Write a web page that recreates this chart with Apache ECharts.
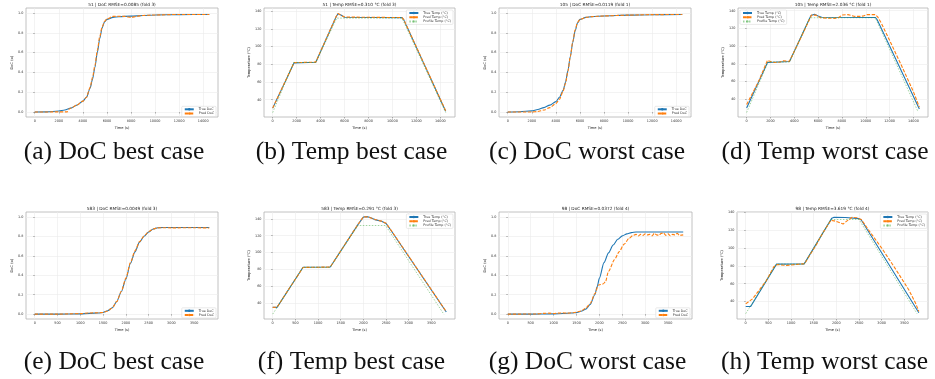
<!DOCTYPE html>
<html lang="en">
<head>
<meta charset="utf-8" />
<title>DoC / Temp best and worst cases</title>
<script src="https://cdn.jsdelivr.net/npm/echarts@6/dist/echarts.min.js"></script>
</head>
<body style="margin:0;background:#fff">
<div id="main" style="width:935px;height:379px;"></div>
<script type="text/javascript">
// ---- values ----
// tick labels
var longTimeTicks = [0, 2000, 4000, 6000, 8000, 10000, 12000, 14000];
var shortTimeTicks = [0, 500, 1000, 1500, 2000, 2500, 3000, 3500];
var docTicks = [0, 0.2, 0.4, 0.6, 0.8, 1.0];
var tempTicks = [40, 60, 80, 100, 120, 140];

// sample 51, DoC
var tDoc51 = [0, 1000, 2000, 2500, 3000, 3500, 4000, 4300, 4600, 4800, 5000, 5200, 5400, 5600, 5800, 6000, 6500, 7000, 8000, 9000, 10000, 12000, 14500];
var trueDoc51 = [0, 0.002, 0.01, 0.02, 0.04, 0.07, 0.11, 0.15, 0.24, 0.33, 0.45, 0.6, 0.74, 0.85, 0.91, 0.935, 0.955, 0.962, 0.968, 0.974, 0.98, 0.983, 0.985];
var tPredDoc51 = [0, 2700, 2850, 3000, 3500, 4000, 4300, 4600, 4800, 5000, 5200, 5400, 5600, 5800, 6000, 6500, 7000, 7500, 8000, 8500, 9000, 10000, 12000, 14500];
var predDoc51 = [0, 0.002, 0.03, 0.04, 0.07, 0.11, 0.15, 0.25, 0.35, 0.47, 0.62, 0.76, 0.86, 0.915, 0.94, 0.965, 0.966, 0.965, 0.955, 0.966, 0.975, 0.98, 0.985, 0.985];

// sample 51, temperature
var tTemp51 = [0, 150, 1780, 1850, 3600, 3700, 5300, 5450, 5550, 5700, 6000, 10800, 10950, 14450];
var trueTemp51 = [30.5, 30.5, 81.5, 82.3, 82.3, 84, 133.5, 137, 137.5, 135.5, 133, 132.5, 130, 27];
var predTemp51 = [30.5, 30.8, 81.8, 82.2, 82.4, 84.2, 133.8, 137.2, 137.3, 135.3, 133.2, 132.6, 130.3, 27.3];
var tProf51 = [0, 1750, 3600, 5350, 10800, 14450];
var profTemp51 = [25.5, 82, 82, 132, 132, 25.5];

// sample 105, DoC
var tDoc105 = [0, 1000, 2000, 2500, 3000, 3500, 4000, 4300, 4600, 4800, 5000, 5200, 5400, 5600, 5800, 6000, 6500, 7000, 8000, 10000, 12000, 14500];
var trueDoc105 = [0, 0.003, 0.012, 0.025, 0.045, 0.07, 0.105, 0.15, 0.22, 0.3, 0.42, 0.56, 0.7, 0.82, 0.9, 0.935, 0.955, 0.963, 0.97, 0.978, 0.982, 0.985];
var tPredDoc105 = [0, 2000, 2500, 3000, 3500, 4000, 4300, 4600, 4800, 5000, 5200, 5400, 5600, 5800, 6000, 6500, 7000, 8000, 10000, 12000, 14500];
var predDoc105 = [0, 0.001, 0.005, 0.02, 0.045, 0.085, 0.13, 0.21, 0.29, 0.41, 0.56, 0.71, 0.83, 0.905, 0.935, 0.955, 0.963, 0.97, 0.978, 0.983, 0.985];

// sample 105, temperature
var tTemp105 = [0, 150, 1750, 1850, 3600, 3700, 5400, 5550, 5700, 6000, 6300, 10800, 10950, 14500];
var trueTemp105 = [30, 30.5, 81.5, 82.3, 82.5, 84, 134.5, 136.5, 136, 134, 132.5, 132.3, 130, 29];
var tPredTemp105 = [0, 150, 1000, 1750, 1850, 2100, 2400, 2800, 3100, 3400, 3600, 4500, 5450, 5600, 5800, 6200, 6800, 7400, 7700, 8000, 8500, 8800, 9100, 9500, 9800, 10100, 10500, 10800, 11000, 11300, 12000, 13000, 14000, 14500];
var predTemp105 = [34, 35, 60, 84, 85, 82, 81.5, 82, 83.5, 82.8, 83, 108, 135, 136.5, 135, 132, 131.5, 131.3, 132, 135, 135.5, 134.5, 133.5, 133.5, 134, 135.5, 135.5, 135.5, 133, 126, 106.5, 78, 48.5, 31];
var tProf105 = [0, 1800, 3600, 5300, 10800, 14400];
var profTemp105 = [25, 82, 82, 132, 132, 25.5];

// sample 583, DoC
var tDoc583 = [0, 500, 1000, 1200, 1400, 1500, 1600, 1700, 1800, 1900, 2000, 2100, 2200, 2300, 2400, 2500, 2600, 2700, 2800, 3000, 3500, 3830];
var trueDoc583 = [0, 0, 0.003, 0.008, 0.012, 0.017, 0.035, 0.065, 0.13, 0.23, 0.36, 0.52, 0.64, 0.74, 0.8, 0.845, 0.875, 0.888, 0.89, 0.89, 0.89, 0.89];
var predDoc583 = [0, 0, 0.005, 0.012, 0.014, 0.017, 0.033, 0.063, 0.13, 0.235, 0.37, 0.53, 0.65, 0.745, 0.805, 0.848, 0.876, 0.887, 0.888, 0.887, 0.888, 0.886];

// sample 583, temperature
var tTemp583 = [0, 95, 670, 700, 1270, 1300, 1880, 2000, 2080, 2150, 2250, 2400, 2500, 2600, 3830];
var trueTemp583 = [35, 35, 82.5, 82.8, 82.8, 84.5, 133, 142, 142.5, 141.5, 139, 137, 134.5, 127, 29.5];
var predTemp583 = [35, 35.2, 82.3, 82.7, 82.8, 84.4, 133.2, 142.2, 142.3, 141.3, 139.2, 137.2, 134.8, 127.3, 29.8];
var tProf583 = [0, 670, 1270, 1880, 2490, 3780];
var profTemp583 = [27, 82.5, 82.5, 132, 132, 26.5];

// sample 98, DoC
var tDoc98 = [0, 500, 1000, 1200, 1400, 1500, 1600, 1700, 1800, 1900, 1950, 2000, 2100, 2200, 2300, 2400, 2500, 2600, 2700, 2800, 3000, 3500, 3830];
var trueDoc98 = [0, 0, 0.003, 0.006, 0.012, 0.016, 0.03, 0.05, 0.1, 0.2, 0.28, 0.37, 0.53, 0.63, 0.71, 0.77, 0.805, 0.825, 0.838, 0.845, 0.845, 0.845, 0.845];
var tPredDoc98 = [0, 600, 800, 900, 1000, 1100, 1200, 1300, 1400, 1500, 1600, 1700, 1800, 1900, 1980, 2030, 2080, 2130, 2200, 2330, 2430, 2540, 2650, 2720, 2800, 2850, 2900, 2950, 3000, 3050, 3100, 3150, 3200, 3250, 3300, 3350, 3400, 3450, 3500, 3550, 3600, 3650, 3700, 3750, 3830];
var predDoc98 = [0, 0.001, 0.008, 0.01, 0.006, 0.01, 0.013, 0.01, 0.014, 0.02, 0.033, 0.06, 0.11, 0.21, 0.3, 0.305, 0.31, 0.33, 0.44, 0.56, 0.64, 0.72, 0.78, 0.805, 0.82, 0.805, 0.82, 0.81, 0.825, 0.815, 0.82, 0.805, 0.83, 0.815, 0.81, 0.83, 0.835, 0.81, 0.825, 0.805, 0.82, 0.815, 0.83, 0.81, 0.815];

// sample 98, temperature
var tTemp98 = [0, 110, 680, 720, 1290, 1330, 1900, 1950, 2200, 2500, 2550, 3820];
var trueTemp98 = [34.5, 34.5, 82, 82.3, 82.3, 84, 133.5, 134.5, 134.3, 133, 131.5, 27.5];
var tPredTemp98 = [0, 150, 450, 620, 700, 900, 1100, 1250, 1300, 1450, 1550, 1700, 1880, 1950, 2050, 2150, 2250, 2350, 2450, 2550, 2700, 3000, 3300, 3600, 3750, 3820];
var predTemp98 = [37.5, 43, 63, 79, 81.5, 80.5, 81.5, 82.3, 82.5, 95, 103, 117, 131, 130.5, 129, 127, 131, 134.5, 134, 132, 121, 100, 77, 53, 38, 29];
var tProf98 = [0, 680, 1290, 1880, 2500, 3780];
var profTemp98 = [26.5, 82, 82, 132, 132, 26.5];

// ---- layout ----
var BLUE = '#1f77b4', ORANGE = '#ff7f0e', GREEN = 'rgba(44,160,44,0.45)';
var FONT = 'DejaVu Sans';

function pts(t, v) {
    return t.map(function (x, i) { return [x, v[i]]; });
}

var panels = [
    { box: [26, 8, 192, 109], long: true, kind: 'doc', y: [-0.05, 1.05],
      title: '51 | DoC RMSE=0.0085 (fold 3)', caption: '(a) DoC best case',
      legend: { right: 719, bottom: 262.5 },
      lines: [['True DoC', tDoc51, trueDoc51], ['Pred DoC', tPredDoc51, predDoc51]] },
    { box: [264, 8, 191, 109], long: true, kind: 'temp', y: [20.5, 143.4],
      title: '51 | Temp RMSE=0.310 °C (fold 3)', caption: '(b) Temp best case',
      legend: { right: 482, top: 10 },
      lines: [['True Temp (°C)', tTemp51, trueTemp51], ['Pred Temp (°C)', tTemp51, predTemp51], ['Profile Temp (°C)', tProf51, profTemp51]] },
    { box: [499, 8, 192, 109], long: true, kind: 'doc', y: [-0.05, 1.05],
      title: '105 | DoC RMSE=0.0119 (fold 1)', caption: '(c) DoC worst case',
      legend: { right: 246, bottom: 262.5 },
      lines: [['True DoC', tDoc105, trueDoc105], ['Pred DoC', tPredDoc105, predDoc105]] },
    { box: [738, 8, 190, 109], long: true, kind: 'temp', y: [19.9, 143],
      title: '105 | Temp RMSE=2.036 °C (fold 1)', caption: '(d) Temp worst case',
      legend: { left: 740, top: 10 },
      lines: [['True Temp (°C)', tTemp105, trueTemp105], ['Pred Temp (°C)', tPredTemp105, predTemp105], ['Profile Temp (°C)', tProf105, profTemp105]] },
    { box: [26, 212, 192, 107], long: false, kind: 'doc', y: [-0.05, 1.05],
      title: '583 | DoC RMSE=0.0049 (fold 3)', caption: '(e) DoC best case',
      legend: { right: 719, bottom: 61 },
      lines: [['True DoC', tDoc583, trueDoc583], ['Pred DoC', tDoc583, predDoc583]] },
    { box: [264, 212, 191, 107], long: false, kind: 'temp', y: [21.2, 148],
      title: '583 | Temp RMSE=0.291 °C (fold 3)', caption: '(f) Temp best case',
      legend: { right: 482, top: 214 },
      lines: [['True Temp (°C)', tTemp583, trueTemp583], ['Pred Temp (°C)', tTemp583, predTemp583], ['Profile Temp (°C)', tProf583, profTemp583]] },
    { box: [499, 212, 193, 107], long: false, kind: 'doc', y: [-0.05, 1.05],
      title: '98 | DoC RMSE=0.0372 (fold 4)', caption: '(g) DoC worst case',
      legend: { right: 245, bottom: 61 },
      lines: [['True DoC', tDoc98, trueDoc98], ['Pred DoC', tPredDoc98, predDoc98]] },
    { box: [737, 212, 191, 107], long: false, kind: 'temp', y: [20.5, 140.4],
      title: '98 | Temp RMSE=3.619 °C (fold 4)', caption: '(h) Temp worst case',
      legend: { right: 8, top: 214 },
      lines: [['True Temp (°C)', tTemp98, trueTemp98], ['Pred Temp (°C)', tPredTemp98, predTemp98], ['Profile Temp (°C)', tProf98, profTemp98]] }
];

var lineLooks = [
    { color: BLUE, width: 1.1, type: 'solid' },
    { color: ORANGE, width: 1.1, type: [3.5, 1.5] },
    { color: GREEN, width: 1, type: [1.5, 1.5] }
];

var option = { animation: false, backgroundColor: '#fff', grid: [], xAxis: [], yAxis: [], legend: [], series: [], graphic: [] };

panels.forEach(function (p, i) {
    var b = p.box;
    option.grid.push({ left: b[0], top: b[1], width: b[2], height: b[3], show: true,
        borderColor: '#b3b3b3', borderWidth: 0.8, backgroundColor: 'transparent' });

    var xt = p.long ? longTimeTicks : shortTimeTicks;
    option.xAxis.push({
        type: 'value', gridIndex: i,
        min: p.long ? -725 : -192, max: p.long ? 15225 : 4022,
        name: 'Time (s)', nameLocation: 'middle', nameGap: 9.5,
        nameTextStyle: { fontSize: 3.6, color: '#222', fontFamily: FONT },
        axisLine: { show: false },
        axisTick: { show: true, length: 1.5, lineStyle: { color: '#666', width: 0.5 }, customValues: xt },
        axisLabel: { fontSize: 3.4, color: '#333', margin: 2.5, fontFamily: FONT, customValues: xt,
            formatter: function (v) { return String(v); } },
        splitLine: { show: true, lineStyle: { color: '#ebebeb', width: 0.6 } }
    });

    var yt = p.kind === 'doc' ? docTicks : tempTicks;
    option.yAxis.push({
        type: 'value', gridIndex: i, min: p.y[0], max: p.y[1],
        name: p.kind === 'doc' ? 'DoC (α)' : 'Temperature (°C)',
        nameLocation: 'middle', nameRotate: 90, nameGap: p.kind === 'doc' ? 12 : 13,
        nameTextStyle: { fontSize: 3.6, color: '#222', fontFamily: FONT },
        axisLine: { show: false },
        axisTick: { show: true, length: 1.5, lineStyle: { color: '#666', width: 0.5 }, customValues: yt },
        axisLabel: { fontSize: 3.4, color: '#333', margin: 2.5, fontFamily: FONT, customValues: yt,
            formatter: function (v) { return p.kind === 'doc' ? v.toFixed(1) : String(v); } },
        splitLine: { show: true, lineStyle: { color: '#ebebeb', width: 0.6 } }
    });

    var lg = { orient: 'vertical', data: [], itemWidth: 9, itemHeight: 3, itemGap: 1.2,
        padding: [1.5, 2, 1.5, 2], backgroundColor: 'rgba(255,255,255,0.85)',
        borderColor: '#d4d4d4', borderWidth: 0.5, borderRadius: 1,
        textStyle: { fontSize: 3.3, color: '#333', fontFamily: FONT } };
    Object.keys(p.legend).forEach(function (k) { lg[k] = p.legend[k]; });

    p.lines.forEach(function (l, j) {
        lg.data.push(l[0]);
        option.series.push({
            type: 'line', name: l[0], xAxisIndex: i, yAxisIndex: i,
            data: pts(l[1], l[2]), symbol: 'none',
            smooth: p.kind === 'doc' ? 0.25 : false, smoothMonotone: 'x',
            color: lineLooks[j].color,
            lineStyle: lineLooks[j], z: 2 + j
        });
    });
    option.legend.push(lg);

    option.graphic.push({
        type: 'text', x: b[0] + b[2] / 2, y: b[1] - 3.5,
        style: { text: p.title, fontSize: 4.3, fontFamily: FONT, fill: '#222',
            textAlign: 'center', textVerticalAlign: 'middle' }
    });
    option.graphic.push({
        type: 'text', x: b[0] + b[2] / 2 - 8, y: i < 4 ? 152 : 362,
        style: { text: p.caption, fontSize: 25.5, fontFamily: 'Liberation Serif', fill: '#111',
            textAlign: 'center', textVerticalAlign: 'middle' }
    });
});

var myChart = echarts.init(document.getElementById('main'));
myChart.setOption(option);
</script>
</body>
</html>
